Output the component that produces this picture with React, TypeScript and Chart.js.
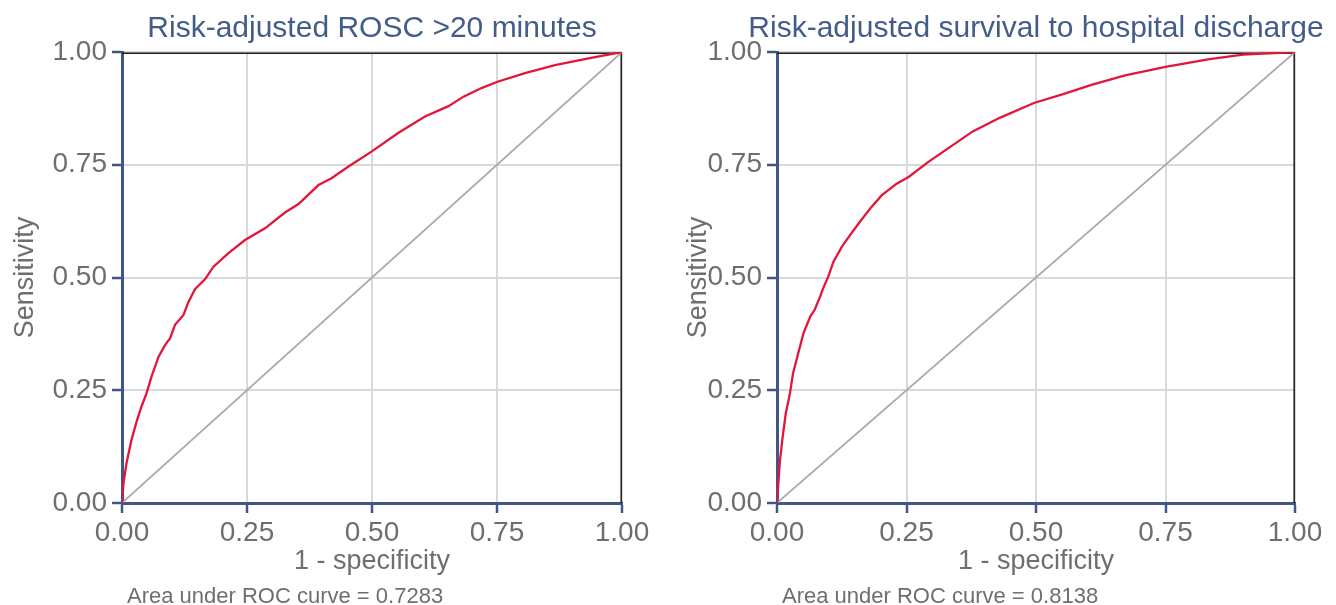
import React, { useEffect, useRef } from "react";
import { Chart, registerables } from "chart.js";

Chart.register(...registerables);

// ---- data ----
const TITLES = ["Risk-adjusted ROSC >20 minutes", "Risk-adjusted survival to hospital discharge"];
const AUC_LABELS = ["0.7283", "0.8138"];
const X_AXIS_TITLE = "1 - specificity";
const Y_AXIS_TITLE = "Sensitivity";

const roscFpr = [0, 0.003, 0.009, 0.019, 0.029, 0.039, 0.049, 0.059, 0.073, 0.086, 0.096, 0.106, 0.123, 0.133, 0.146, 0.166, 0.183, 0.213, 0.246, 0.286, 0.326, 0.353, 0.393, 0.419, 0.453, 0.499, 0.553, 0.606, 0.653, 0.683, 0.719, 0.751, 0.806, 0.866, 0.933, 1];
const roscTpr = [0, 0.044, 0.088, 0.14, 0.18, 0.214, 0.243, 0.28, 0.324, 0.35, 0.365, 0.395, 0.417, 0.446, 0.474, 0.496, 0.524, 0.554, 0.583, 0.609, 0.644, 0.663, 0.705, 0.72, 0.746, 0.779, 0.821, 0.857, 0.88, 0.901, 0.92, 0.934, 0.953, 0.971, 0.986, 1];

const survFpr = [0, 0.0026, 0.0058, 0.011, 0.017, 0.025, 0.031, 0.041, 0.051, 0.064, 0.073, 0.083, 0.089, 0.099, 0.109, 0.125, 0.141, 0.159, 0.182, 0.202, 0.231, 0.254, 0.293, 0.326, 0.378, 0.43, 0.496, 0.554, 0.607, 0.672, 0.75, 0.835, 0.9, 1];
const survTpr = [0, 0.044, 0.095, 0.147, 0.199, 0.243, 0.288, 0.332, 0.376, 0.413, 0.429, 0.457, 0.476, 0.502, 0.535, 0.568, 0.594, 0.622, 0.656, 0.682, 0.708, 0.723, 0.757, 0.783, 0.824, 0.854, 0.887, 0.907, 0.927, 0.948, 0.967, 0.984, 0.994, 1];

const diagX = [0, 1];
const diagY = [0, 1];

// ---- styles ----
const FONT = "'Liberation Sans', Arial, Helvetica, sans-serif";
const AXIS_BLUE = "#3f5686";
const TITLE_BLUE = "#435c89";
const GREY_TEXT = "#6e6e6e";
const GRID = "#d9d9d9";
const RED = "#e3163a";
const DIAG = "#a9a9a9";

type PanelCfg = {
  title: string;
  auc: string;
  fpr: number[];
  tpr: number[];
  padLeft: number;
  yWidth: number;
  padRight: number;
};

const decorPlugin = {
  id: "decor",
  beforeDatasetsDraw(chart: any) {
    const { ctx, chartArea } = chart;
    const { left, right, top, bottom } = chartArea;
    ctx.save();
    ctx.strokeStyle = "#1e1e1e";
    ctx.lineWidth = 1.5;
    ctx.beginPath();
    ctx.moveTo(left, top + 1.2);
    ctx.lineTo(right - 0.8, top + 1.2);
    ctx.lineTo(right - 0.8, bottom);
    ctx.stroke();
    ctx.restore();
  },
  afterDraw(chart: any, _args: any, opts: any) {
    const { ctx, chartArea } = chart;
    const { left, right } = chartArea;
    ctx.save();
    ctx.fillStyle = TITLE_BLUE;
    ctx.font = `30px ${FONT}`;
    ctx.textAlign = "center";
    ctx.textBaseline = "alphabetic";
    ctx.fillText(opts.title, (left + right) / 2, 37);
    ctx.fillStyle = GREY_TEXT;
    ctx.font = `22px ${FONT}`;
    ctx.textAlign = "left";
    ctx.fillText(`Area under ROC curve = ${opts.auc}`, left + 5, 603);
    ctx.restore();
  },
};

function Panel({ cfg, x }: { cfg: PanelCfg; x: number }) {
  const ref = useRef<HTMLCanvasElement | null>(null);
  useEffect(() => {
    if (!ref.current) return;
    const axisCommon = {
      type: "linear" as const,
      min: 0,
      max: 1,
      ticks: {
        stepSize: 0.25,
        color: GREY_TEXT,
        font: { family: FONT, size: 28 },
        callback: (v: any) => Number(v).toFixed(2),
      },
      grid: {
        color: GRID,
        lineWidth: 2,
        tickColor: AXIS_BLUE,
        tickWidth: 2.5,
        tickLength: 10,
      },
      border: { color: AXIS_BLUE, width: 3 },
    };
    const chart = new Chart(ref.current, {
      type: "scatter",
      data: {
        datasets: [
          {
            data: cfg.fpr.map((v, i) => ({ x: v, y: cfg.tpr[i] })),
            showLine: true,
            borderColor: RED,
            borderWidth: 2.3,
            pointRadius: 0,
            tension: 0,
            order: 1,
          },
          {
            data: diagX.map((v, i) => ({ x: v, y: diagY[i] })),
            showLine: true,
            borderColor: DIAG,
            borderWidth: 1.7,
            pointRadius: 0,
            order: 2,
          },
        ],
      },
      options: {
        responsive: false,
        animation: false,
        devicePixelRatio: 1,
        layout: { padding: { top: 52, left: cfg.padLeft, right: cfg.padRight, bottom: 27 } },
        plugins: {
          legend: { display: false },
          tooltip: { enabled: false },
          decor: { title: cfg.title, auc: cfg.auc },
        } as any,
        scales: {
          x: {
            ...axisCommon,
            position: "bottom",
            ticks: { ...axisCommon.ticks, padding: 3, maxRotation: 0 },
            title: {
              display: true,
              text: X_AXIS_TITLE,
              color: GREY_TEXT,
              font: { family: FONT, size: 27 },
              padding: 0,
            },
            afterFit: (s: any) => {
              s.height = 75;
            },
          },
          y: {
            ...axisCommon,
            position: "left",
            ticks: { ...axisCommon.ticks, padding: 5 },
            title: {
              display: true,
              text: Y_AXIS_TITLE,
              color: GREY_TEXT,
              font: { family: FONT, size: 27 },
              padding: 0,
            },
            afterFit: (s: any) => {
              s.width = cfg.yWidth;
            },
          },
        },
      },
      plugins: [decorPlugin],
    });
    return () => chart.destroy();
  }, [cfg]);
  return (
    <canvas
      ref={ref}
      width={668}
      height={605}
      style={{ position: "absolute", left: x, top: 0, width: 668, height: 605 }}
    />
  );
}

const PANELS: PanelCfg[] = [
  { title: TITLES[0], auc: AUC_LABELS[0], fpr: roscFpr, tpr: roscTpr, padLeft: 9, yWidth: 113, padRight: 46 },
  { title: TITLES[1], auc: AUC_LABELS[1], fpr: survFpr, tpr: survTpr, padLeft: 14, yWidth: 95, padRight: 41 },
];

export default function App() {
  return (
    <div
      style={{
        position: "fixed",
        left: 0,
        top: 0,
        width: 1336,
        height: 605,
        background: "#ffffff",
        overflow: "hidden",
      }}
    >
      <Panel cfg={PANELS[0]} x={0} />
      <Panel cfg={PANELS[1]} x={668} />
    </div>
  );
}
